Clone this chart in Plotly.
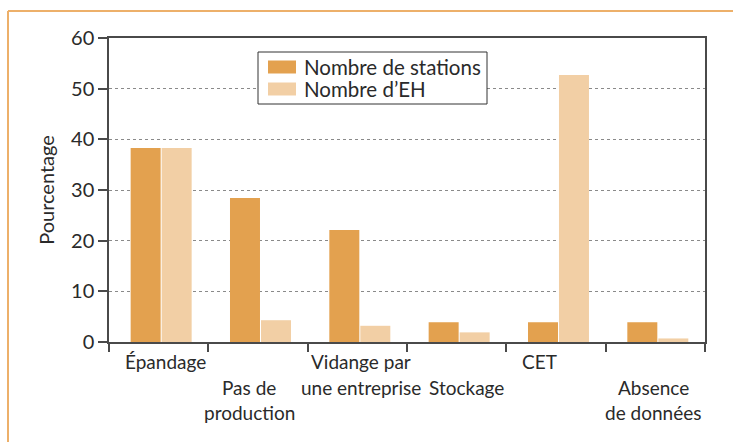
import plotly.graph_objects as go

# ---- data ----
categories = ["Épandage", "Pas de production", "Vidange par une entreprise",
              "Stockage", "CET", "Absence de données"]
stations = [38.3, 28.4, 22.1, 3.9, 3.9, 3.9]
eh = [38.3, 4.3, 3.2, 1.9, 52.7, 0.7]
series_names = ["Nombre de stations", "Nombre d\u2019EH"]
y_ticks = [0, 10, 20, 30, 40, 50, 60]
y_title = "Pourcentage"

# category label layout: (lines, x offset from category centre, row index)
label_lines = [
    (["Épandage"], 0.07, 0),
    (["Pas de", "production"], -0.09, 1),
    (["Vidange par", "une entreprise"], 0.04, 0),
    (["Stockage"], 0.10, 1),
    (["CET"], -0.17, 0),
    (["Absence", "de données"], -0.02, 1),
]

# ---- styling ----
W, H = 733, 442
L, R, T, B = 109, 705, 38, 342
DARK = "#E3A14F"
LIGHT = "#F2CFA5"
FRAME = "#EDB06A"
AXIS = "#4a4a4a"
FONT = "Lato"
FS = 19
TXT = "#2a2a2a"


def px_x(px):
    return (px - L) / (R - L)


def px_y(py):
    return (B - py) / (B - T)


x_idx = list(range(len(categories)))

fig = go.Figure()
fig.add_trace(go.Bar(x=x_idx, y=stations, name=series_names[0], marker_color=DARK,
                     marker_line_width=0, width=0.302, offset=-0.282, showlegend=False))
fig.add_trace(go.Bar(x=x_idx, y=eh, name=series_names[1], marker_color=LIGHT,
                     marker_line_width=0, width=0.302, offset=0.03, showlegend=False))

annotations = []
row_px = [361, 387, 412]
for i, (lines, dx, row) in enumerate(label_lines):
    for k, line in enumerate(lines):
        annotations.append(dict(
            x=x_idx[i] + dx, xref="x", y=0, yref="paper",
            yshift=-(row_px[row + k] - B), yanchor="middle", xanchor="center",
            text=line, showarrow=False, font=dict(family=FONT, size=FS, color=TXT)))

# manual legend
shapes = []
lg_x0, lg_x1, lg_y0, lg_y1 = 258, 487, 52, 104
shapes.append(dict(type="rect", xref="paper", yref="paper",
                   x0=px_x(lg_x0), x1=px_x(lg_x1), y0=px_y(lg_y1), y1=px_y(lg_y0),
                   line=dict(color="#333333", width=1), fillcolor="white", layer="above"))
for j, (nm, col) in enumerate(zip(series_names, [DARK, LIGHT])):
    cy = [67, 89][j]
    shapes.append(dict(type="rect", xref="paper", yref="paper",
                       x0=px_x(268), x1=px_x(296), y0=px_y(cy + 6.5), y1=px_y(cy - 6.5),
                       line=dict(width=0), fillcolor=col, layer="above"))
    annotations.append(dict(x=px_x(302), y=px_y(cy), xref="paper", yref="paper",
                            xanchor="left", yanchor="middle", text=nm, showarrow=False,
                            font=dict(family=FONT, size=20.5, color=TXT)))

# outer frame lines (top and left)
shapes.append(dict(type="line", xref="paper", yref="paper",
                   x0=px_x(8), x1=px_x(740), y0=px_y(11), y1=px_y(11),
                   line=dict(color=FRAME, width=2)))
shapes.append(dict(type="line", xref="paper", yref="paper",
                   x0=px_x(8), x1=px_x(8), y0=px_y(11), y1=px_y(450),
                   line=dict(color=FRAME, width=2)))

fig.update_layout(
    width=W, height=H,
    margin=dict(l=L, r=W - R, t=T, b=H - B, pad=0),
    paper_bgcolor="white", plot_bgcolor="white",
    barmode="group",
    showlegend=False,
    annotations=annotations,
    shapes=shapes,
    font=dict(family=FONT, color=TXT),
)
fig.update_xaxes(
    range=[-0.5, len(categories) - 0.5],
    tickvals=[i - 0.5 for i in range(len(categories) + 1)],
    showticklabels=False, ticks="outside", ticklen=8, tickcolor=AXIS, tickwidth=1.5,
    showgrid=False, zeroline=False,
    showline=True, linecolor=AXIS, linewidth=1.5, mirror=True,
)
fig.update_yaxes(
    range=[0, 60], tickvals=y_ticks,
    ticks="outside", ticklen=9, tickcolor=AXIS, tickwidth=1.5,
    tickfont=dict(family=FONT, size=20, color=TXT),
    showgrid=True, gridcolor="#8a8a8a", griddash="dot", gridwidth=1,
    zeroline=False,
    showline=True, linecolor=AXIS, linewidth=1.5, mirror=True,
    title=dict(text=y_title, font=dict(family=FONT, size=20, color=TXT), standoff=11),
)

fig.write_html("out.html", config={"displayModeBar": False},
               post_script="document.body.style.margin='0px';")
